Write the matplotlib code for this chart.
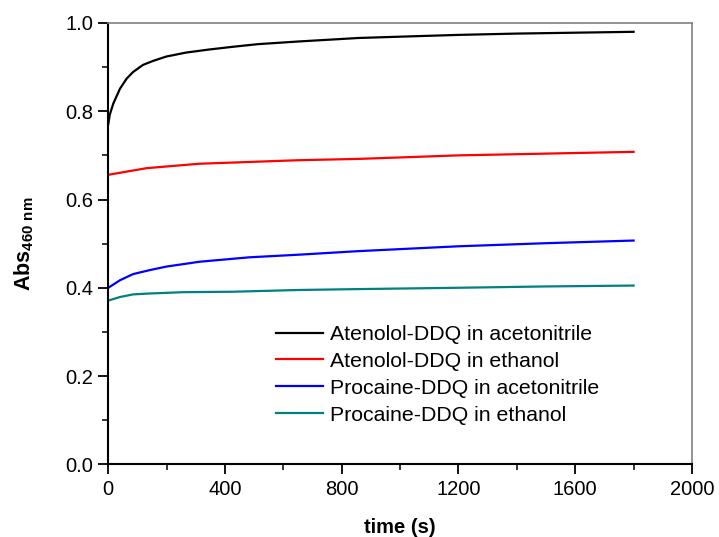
import matplotlib
matplotlib.use("Agg")
import matplotlib.pyplot as plt
from matplotlib.ticker import MultipleLocator

plt.rcParams['font.family'] = ['Liberation Sans', 'DejaVu Sans']
plt.rcParams['mathtext.fontset'] = 'custom'
plt.rcParams['mathtext.rm'] = 'Liberation Sans'
plt.rcParams['mathtext.bf'] = 'Liberation Sans:bold'

labels = ["Atenolol-DDQ in acetonitrile", "Atenolol-DDQ in ethanol",
          "Procaine-DDQ in acetonitrile", "Procaine-DDQ in ethanol"]
colors = ["#000000", "#ff0000", "#0000ff", "#008080"]

black_t = [0, 5, 17, 40, 63, 85, 119, 153, 199, 267, 347, 426, 512, 650, 857, 1050, 1200, 1400, 1600, 1800]
black_v = [0.771, 0.792, 0.817, 0.851, 0.874, 0.889, 0.905, 0.914, 0.924, 0.933, 0.940, 0.946, 0.952, 0.958, 0.966, 0.970, 0.973, 0.976, 0.978, 0.980]

red_t = [0, 131, 310, 650, 857, 1200, 1500, 1800]
red_v = [0.656, 0.671, 0.681, 0.689, 0.692, 0.700, 0.704, 0.708]

blue_t = [0, 40, 85, 142, 199, 313, 483, 654, 857, 1200, 1500, 1800]
blue_v = [0.400, 0.417, 0.431, 0.440, 0.448, 0.459, 0.469, 0.475, 0.483, 0.494, 0.501, 0.507]

teal_t = [0, 40, 85, 142, 256, 426, 654, 857, 1200, 1500, 1800]
teal_v = [0.371, 0.379, 0.385, 0.387, 0.390, 0.391, 0.395, 0.397, 0.400, 0.403, 0.405]

series = [(black_t, black_v), (red_t, red_v), (blue_t, blue_v), (teal_t, teal_v)]

fig = plt.figure(figsize=(7.19, 5.37), dpi=100)
ax = fig.add_axes([0.1506, 0.1354, 0.8118, 0.8218])

for (t, v), c, lab in zip(series, colors, labels):
    ax.plot(t, v, color=c, lw=1.6, label=lab)

ax.set_xlim(0, 2000)
ax.set_ylim(0, 1.0)
ax.xaxis.set_major_locator(MultipleLocator(400))
ax.xaxis.set_minor_locator(MultipleLocator(200))
ax.yaxis.set_major_locator(MultipleLocator(0.2))
ax.yaxis.set_minor_locator(MultipleLocator(0.1))
ax.xaxis.set_major_formatter(matplotlib.ticker.FormatStrFormatter('%d'))
ax.yaxis.set_major_formatter(matplotlib.ticker.FormatStrFormatter('%.1f'))

for s in ['left', 'bottom']:
    ax.spines[s].set_linewidth(1.5)
    ax.spines[s].set_color('black')
for s in ['top', 'right']:
    ax.spines[s].set_linewidth(1.2)
    ax.spines[s].set_color('#808080')

ax.tick_params(which='major', direction='out', length=7, width=1.3, labelsize=14.5, pad=4,
               top=False, right=False)
ax.tick_params(which='minor', direction='out', length=4, width=1.1, top=False, right=False)

ax.set_xlabel('time (s)', fontsize=14.5, fontweight='bold', labelpad=14)
ax.set_ylabel(r'$\mathbf{Abs}_{\mathbf{460\ nm}}$', fontsize=15.5, labelpad=21)

leg = ax.legend(loc='upper left', bbox_to_anchor=(0.2873, 0.3157), frameon=False,
                fontsize=15.3, handlelength=2.2, handletextpad=0.33, labelspacing=0.37,
                borderpad=0, borderaxespad=0)

fig.savefig('out.png', dpi=100)
